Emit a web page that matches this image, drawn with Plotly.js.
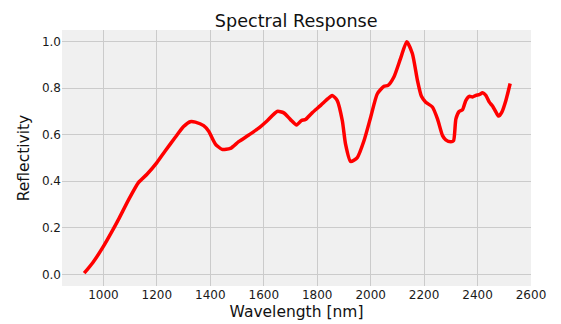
<!DOCTYPE html>
<html>
<head>
<meta charset="utf-8">
<script src="https://cdn.plot.ly/plotly-3.0.1.min.js"></script>
<style>html,body{margin:0;padding:0;background:#fff;}#chart{width:561px;height:324px;}</style>
</head>
<body>
<div id="chart"></div>
<script>
const wavelength = [928, 960, 1000, 1030, 1056, 1094, 1131, 1163, 1200, 1231, 1269, 1300, 1325, 1344, 1375, 1394, 1405, 1419, 1444, 1475, 1506, 1544, 1581, 1613, 1650, 1675, 1700, 1723, 1741, 1756, 1781, 1813, 1840, 1856, 1875, 1894, 1906, 1925, 1950, 1975, 2000, 2025, 2050, 2065, 2087, 2112, 2135, 2156, 2175, 2190, 2206, 2231, 2250, 2269, 2281, 2300, 2310, 2319, 2331, 2344, 2356, 2369, 2381, 2394, 2406, 2419, 2431, 2444, 2456, 2469, 2479, 2491, 2506, 2522];
const reflectivity = [0.005, 0.05, 0.12, 0.18, 0.235, 0.32, 0.394, 0.43, 0.48, 0.53, 0.589, 0.635, 0.656, 0.654, 0.639, 0.615, 0.59, 0.56, 0.537, 0.541, 0.57, 0.599, 0.628, 0.66, 0.70, 0.694, 0.665, 0.642, 0.661, 0.665, 0.694, 0.726, 0.755, 0.769, 0.747, 0.66, 0.56, 0.485, 0.502, 0.574, 0.675, 0.776, 0.808, 0.812, 0.848, 0.928, 1.0, 0.949, 0.834, 0.765, 0.74, 0.719, 0.668, 0.596, 0.578, 0.57, 0.574, 0.668, 0.70, 0.708, 0.747, 0.765, 0.762, 0.769, 0.772, 0.78, 0.769, 0.74, 0.723, 0.697, 0.68, 0.697, 0.747, 0.82];
const xTicks = [1000, 1200, 1400, 1600, 1800, 2000, 2200, 2400, 2600];
const yTicks = [0.0, 0.2, 0.4, 0.6, 0.8, 1.0];

const trace = {
  x: wavelength, y: reflectivity, type: 'scatter', mode: 'lines',
  line: {color: '#ff0000', width: 3.5, shape: 'spline', smoothing: 0.6},
  hoverinfo: 'skip'
};
const font = {family: 'DejaVu Sans, sans-serif', color: '#1a1a1a'};
const layout = {
  width: 561, height: 324,
  margin: {l: 62, r: 30, t: 30, b: 38, pad: 0},
  paper_bgcolor: '#ffffff', plot_bgcolor: '#f0f0f0',
  font: font,
  showlegend: false,
  title: {text: 'Spectral Response', font: {family: 'DejaVu Sans, sans-serif', size: 17.6, color: '#111'}, x: 0.528, xanchor: 'center', y: 0.936, yanchor: 'middle'},
  xaxis: {
    range: [845, 2600], tickvals: xTicks, ticktext: xTicks.map(String),
    showgrid: true, gridcolor: '#cbcbcb', gridwidth: 1, zeroline: false, showline: false,
    ticks: '', ticklen: 0, tickfont: {size: 12, color: '#1a1a1a'},
    title: {text: 'Wavelength [nm]', font: {size: 15.5, color: '#111'}, standoff: 5}
  },
  yaxis: {
    range: [-0.05, 1.05], tickvals: yTicks, ticktext: yTicks.map(v => v.toFixed(1)),
    showgrid: true, gridcolor: '#cbcbcb', gridwidth: 1, zeroline: false, showline: false,
    ticks: '', ticklen: 0, tickfont: {size: 12, color: '#1a1a1a'},
    title: {text: 'Reflectivity', font: {size: 15.5, color: '#111'}, standoff: 8}
  }
};
Plotly.newPlot('chart', [trace], layout, {staticPlot: true, displayModeBar: false});
</script>
</body>
</html>
